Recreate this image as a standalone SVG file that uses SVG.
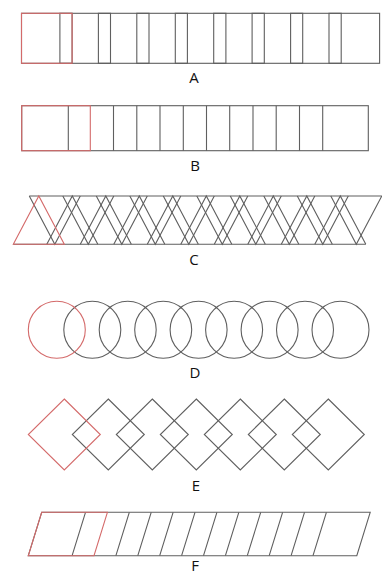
<svg xmlns="http://www.w3.org/2000/svg" width="382" height="574" viewBox="0 0 382 574">
<style>
.g{fill:none;stroke:#5f5f5f;stroke-width:1.1}
.r{fill:none;stroke:#d46a6a;stroke-width:1.1}
.t{font-family:"Open Sans","Liberation Sans",sans-serif;font-size:15px;fill:#111;text-anchor:middle}
</style>
<rect width="382" height="574" fill="#fff"/>
<g id="figA">
<g class="g">
<rect x="21.5" y="13.3" width="50.6" height="50"/>
<rect x="59.9" y="13.3" width="50.6" height="50"/>
<rect x="98.4" y="13.3" width="50.6" height="50"/>
<rect x="136.8" y="13.3" width="50.6" height="50"/>
<rect x="175.3" y="13.3" width="50.6" height="50"/>
<rect x="213.7" y="13.3" width="50.6" height="50"/>
<rect x="252.1" y="13.3" width="50.6" height="50"/>
<rect x="290.6" y="13.3" width="50.6" height="50"/>
<rect x="329" y="13.3" width="50.6" height="50"/>
</g>
<rect class="r" x="21.5" y="13.3" width="50.6" height="50"/>
<text class="t" x="194" y="83">A</text>
</g>
<g id="figB">
<g class="g">
<rect x="21.7" y="105.7" width="346.6" height="45"/>
<path d="M68.3 105.7V150.7M113.5 105.7V150.7M136.8 105.7V150.7M160 105.7V150.7M183.3 105.7V150.7M206.5 105.7V150.7M229.7 105.7V150.7M253 105.7V150.7M276.2 105.7V150.7M299.5 105.7V150.7M322.7 105.7V150.7"/>
</g>
<rect class="r" x="21.7" y="105.7" width="68.6" height="45"/>
<text class="t" x="195" y="171">B</text>
</g>
<g id="figC">
<g class="g">
<path d="M29.3 196H381.8M13.3 244.3H365.8"/>
<polyline points="46.8,244.3 72.3,196 97.8,244.3"/>
<polyline points="80.3,244.3 105.8,196 131.3,244.3"/>
<polyline points="113.8,244.3 139.3,196 164.8,244.3"/>
<polyline points="147.3,244.3 172.8,196 198.3,244.3"/>
<polyline points="180.8,244.3 206.3,196 231.8,244.3"/>
<polyline points="214.3,244.3 239.8,196 265.3,244.3"/>
<polyline points="247.8,244.3 273.3,196 298.8,244.3"/>
<polyline points="281.3,244.3 306.8,196 332.3,244.3"/>
<polyline points="314.8,244.3 340.3,196 365.8,244.3"/>
<polyline points="29.3,196 54.8,244.3 80.3,196"/>
<polyline points="62.8,196 88.3,244.3 113.8,196"/>
<polyline points="96.3,196 121.8,244.3 147.3,196"/>
<polyline points="129.8,196 155.3,244.3 180.8,196"/>
<polyline points="163.3,196 188.8,244.3 214.3,196"/>
<polyline points="196.8,196 222.3,244.3 247.8,196"/>
<polyline points="230.3,196 255.8,244.3 281.3,196"/>
<polyline points="263.8,196 289.3,244.3 314.8,196"/>
<polyline points="297.3,196 322.8,244.3 348.3,196"/>
<polyline points="330.8,196 356.3,244.3 381.8,196"/>
</g>
<polygon class="r" points="13.3,244.3 38.8,196 64.3,244.3"/>
<text class="t" x="194" y="265">C</text>
</g>
<g id="figD">
<g class="g">
<circle cx="92.3" cy="329.7" r="28.5"/>
<circle cx="127.7" cy="329.7" r="28.5"/>
<circle cx="163.2" cy="329.7" r="28.5"/>
<circle cx="198.6" cy="329.7" r="28.5"/>
<circle cx="234.1" cy="329.7" r="28.5"/>
<circle cx="269.6" cy="329.7" r="28.5"/>
<circle cx="305" cy="329.7" r="28.5"/>
<circle cx="340.5" cy="329.7" r="28.5"/>
</g>
<circle class="r" cx="56.8" cy="329.7" r="28.5"/>
<text class="t" x="195" y="378">D</text>
</g>
<g id="figE">
<g class="g">
<polygon points="108.3,399 144.3,434.5 108.3,470 72.3,434.5"/>
<polygon points="152.3,399 188.3,434.5 152.3,470 116.3,434.5"/>
<polygon points="196.3,399 232.3,434.5 196.3,470 160.3,434.5"/>
<polygon points="240.3,399 276.3,434.5 240.3,470 204.3,434.5"/>
<polygon points="284.3,399 320.3,434.5 284.3,470 248.3,434.5"/>
<polygon points="328.3,399 364.3,434.5 328.3,470 292.3,434.5"/>
</g>
<polygon class="r" points="64.3,399 100.3,434.5 64.3,470 28.3,434.5"/>
<text class="t" x="196" y="491">E</text>
</g>
<g id="figF">
<g class="g">
<polygon points="41.7,512.3 370.2,512.3 356.8,555.7 28.3,555.7"/>
<path d="M85.5 512.3L72.1 555.7M129.3 512.3L115.9 555.7M151.2 512.3L137.8 555.7M173.1 512.3L159.7 555.7M195 512.3L181.6 555.7M216.9 512.3L203.5 555.7M238.8 512.3L225.4 555.7M260.7 512.3L247.3 555.7M282.6 512.3L269.2 555.7M304.5 512.3L291.1 555.7M326.4 512.3L313 555.7"/>
</g>
<polygon class="r" points="41.7,512.3 107.4,512.3 94,555.7 28.3,555.7"/>
<text class="t" x="195" y="571">F</text>
</g>
</svg>
